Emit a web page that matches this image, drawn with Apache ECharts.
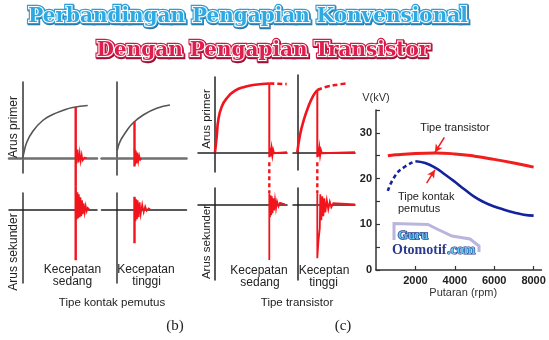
<!DOCTYPE html>
<html><head><meta charset="utf-8">
<script src="https://cdn.jsdelivr.net/npm/echarts@6/dist/echarts.min.js"></script>
<style>html,body{margin:0;padding:0;background:#fff}#c{width:549px;height:340px}</style>
</head><body><div id="c"></div>
<script>
// ===== Main chart data: V(kV) vs Putaran (rpm) =====
const rpmTransistor = [600, 1000, 2000, 3000, 4000, 5000, 6000, 7000, 8000];
const kvTransistor  = [25.0, 25.2, 25.5, 25.6, 25.4, 24.9, 24.2, 23.4, 22.5];
const rpmKontakDash = [600, 1000, 1500, 2000];
const kvKontakDash  = [17.3, 20.8, 22.7, 23.8];
const rpmKontak = [2000, 2500, 3000, 3500, 4000, 4500, 5000, 5500, 6000, 6500, 7000, 7500, 8000];
const kvKontak  = [23.8, 23.4, 22.4, 20.9, 19.3, 17.6, 16.0, 14.8, 13.9, 13.2, 12.6, 12.1, 11.9];
const xTickValues = [2000, 4000, 6000, 8000];
const yTickLabels = [0, 10, 20, 30];

// ===== Waveform sketches (time, current in arbitrary units) =====
// (b) Tipe kontak pemutus - kecepatan sedang
const bSedPrimT = [0, 0.1, 0.4, 1.0, 2.0, 3.0, 4.0, 5.0, 6.5];
const bSedPrimI = [0, 0.5, 1.6, 2.7, 3.8, 4.4, 4.8, 5.1, 5.3];
const bSedSpike = [[5.3, 5.15], [5.3, -2.8]];
const bSedPrimOsc = [[5.3, 1.2], [5.4, -0.5], [5.5, 0.9], [5.6, -0.4], [5.7, 0.6], [5.8, -0.3], [5.9, 0.4], [6.0, -0.2], [6.2, 0.1], [6.4, 0]];
const bSedSekSpike = [[5.3, 2.3], [5.3, -5.1]];
const bSedSekOsc = [[5.33, 1.8], [5.42, -1.0], [5.48, 1.7], [5.55, -0.9], [5.62, 1.5], [5.7, -0.8], [5.78, 1.2], [5.86, -0.7], [5.94, 0.9], [6.02, -0.5], [6.1, 0.6], [6.2, -0.35], [6.3, 0.35], [6.4, -0.2], [6.5, 0.15], [6.65, 0]];
// (b) kecepatan tinggi
const bTinPrimT = [0.06, 0.33, 0.83, 1.6, 2.66, 4.0, 5.33];
const bTinPrimI = [0.85, 1.68, 2.52, 3.52, 4.35, 5.02, 5.35];
const bTinSpike = [[1.78, 3.7], [1.78, -0.8]];
const bTinPrimOsc = [[1.78, 1.0], [1.85, -0.6], [1.92, 0.8], [2.0, -0.5], [2.08, 0.6], [2.16, -0.3], [2.25, 0.3], [2.35, -0.15], [2.5, 0]];
const bTinSekSpike = [[1.78, 1.26], [1.78, -3.4]];
const bTinSekOsc = [[1.8, 1.1], [1.88, -1.2], [1.95, 1.0], [2.03, -1.0], [2.1, 0.9], [2.2, -0.8], [2.3, 0.7], [2.4, -0.5], [2.55, 0.5], [2.7, -0.3], [2.85, 0.3], [3.0, -0.15], [3.2, 0.1], [3.35, 0]];
// (c) Tipe transistor - kecepatan sedang
const cSedPrimT = [0, 0.17, 0.33, 0.67, 1.17, 2.0, 3.0, 4.0, 5.43];
const cSedPrimI = [0, 1.56, 3.23, 4.56, 5.4, 6.16, 6.56, 6.76, 6.88];
const cSedPrimDash = [[5.43, 6.88], [6.3, 6.85], [7.17, 6.82]];
const cSedPrimOsc = [[5.43, 6.88], [5.43, -0.5], [5.5, 0.45], [5.58, -0.4], [5.66, 0.35], [5.74, -0.3], [5.82, 0.2], [5.9, -0.1], [6.0, 0], [7.2, 0]];
const cSedLink = [[5.43, -1.0], [5.43, -4.1]];
const cSedSek = [[5.43, 1.1], [5.43, -5.57], [5.43, 0.9], [5.5, -1.3], [5.56, 0.9], [5.62, -1.1], [5.68, 0.8], [5.75, -0.9], [5.82, 0.6], [5.9, -0.6], [6.0, 0.45], [6.1, -0.4], [6.2, 0.3], [6.35, -0.2], [6.5, 0.15], [6.7, -0.05], [7.0, 0]];
// (c) kecepatan tinggi
const cTinPrimT = [0, 0.27, 0.6, 1.1, 1.6, 2.0];
const cTinPrimI = [0, 1.73, 3.06, 4.56, 5.66, 6.23];
const cTinPrimDash = [[2.0, 6.23], [2.94, 6.56], [4.27, 6.8], [4.94, 6.9]];
const cTinPrimOsc = [[2.0, 6.23], [2.0, -0.5], [2.07, 0.5], [2.14, -0.4], [2.21, 0.35], [2.28, -0.3], [2.36, 0.2], [2.45, -0.1], [2.6, 0], [5.77, 0]];
const cTinLink = [[2.0, -1.0], [2.0, -4.1]];
const cTinSek = [[2.0, 1.1], [2.0, -5.4], [2.12, -3.6], [2.25, -2.4], [2.3, 1.0], [2.4, -1.6], [2.5, 0.8], [2.6, -1.2], [2.7, 0.6], [2.8, -0.8], [2.95, 0.4], [3.1, -0.5], [3.25, 0.25], [3.4, -0.3], [3.6, 0.1], [3.77, 0], [5.77, 0]];

const zip = (a, b) => a.map((v, i) => [v, b[i]]);

// ===== Layout of the sketch panels (pixels) =====
const U = 10; // px per unit
const boxes = [
  {l: 9,     t: 82,  r: 97,    b: 173, ox: 22.7,  oy: 158.5, hc: '#707070', hw: 2.5, vc: '#333'},
  {l: 9,     t: 193, r: 97,    b: 283, ox: 22.7,  oy: 209.3, hc: '#222',    hw: 1.5, vc: '#333'},
  {l: 101.5, t: 82,  r: 186.5, b: 175, ox: 116.7, oy: 158.5, hc: '#707070', hw: 2.5, vc: '#333'},
  {l: 101.5, t: 193, r: 186.5, b: 283, ox: 116.7, oy: 209.3, hc: '#222',    hw: 1.5, vc: '#333'},
  {l: 198,   t: 77,  r: 287,   b: 172, ox: 215,   oy: 152.3, hc: '#222',    hw: 1.5, vc: '#222'},
  {l: 198,   t: 188, r: 287,   b: 280, ox: 215,   oy: 204.3, hc: '#222',    hw: 1.5, vc: '#222'},
  {l: 293,   t: 75,  r: 355,   b: 170, ox: 297.3, oy: 152.3, hc: '#222',    hw: 1.5, vc: '#222'},
  {l: 293,   t: 188, r: 355,   b: 280, ox: 297.3, oy: 204.3, hc: '#222',    hw: 1.5, vc: '#222'}
];
const grids = [], xAxes = [], yAxes = [];
boxes.forEach((bx, i) => {
  grids.push({left: bx.l, top: bx.t, width: bx.r - bx.l, height: bx.b - bx.t, containLabel: false});
  xAxes.push({gridIndex: i, type: 'value', min: -(bx.ox - bx.l) / U, max: (bx.r - bx.ox) / U,
    axisLine: {onZero: true, lineStyle: {color: bx.hc, width: bx.hw}}, axisTick: {show: false}, axisLabel: {show: false}, splitLine: {show: false}});
  yAxes.push({gridIndex: i, type: 'value', min: -(bx.b - bx.oy) / U, max: (bx.oy - bx.t) / U,
    axisLine: {onZero: true, lineStyle: {color: bx.vc, width: 1.5}}, axisTick: {show: false}, axisLabel: {show: false}, splitLine: {show: false}});
});
// main chart grid
grids.push({left: 376, top: 110, width: 165.5, height: 160, containLabel: false});
const AX = '#333';
xAxes.push({gridIndex: 8, type: 'value', min: 0, max: 8400,
  name: 'Putaran (rpm)', nameLocation: 'middle', nameGap: 17,
  nameTextStyle: {fontFamily: 'Liberation Sans', fontSize: 11, color: '#333', padding: [0, 0, 0, 9]},
  axisLine: {lineStyle: {color: AX, width: 1.5}},
  axisTick: {inside: true, length: 4, customValues: xTickValues, lineStyle: {color: AX, width: 1.2}},
  axisLabel: {customValues: xTickValues, fontFamily: 'Liberation Sans', fontWeight: 'bold', fontSize: 11, color: '#222', margin: 5,
    formatter: v => String(v)},
  splitLine: {show: false}});
yAxes.push({gridIndex: 8, type: 'value', min: 0, max: 35, interval: 5,
  name: 'V(kV)', nameLocation: 'end', nameGap: 7,
  nameTextStyle: {fontFamily: 'Liberation Sans', fontSize: 11, color: '#333', align: 'center'},
  axisLine: {lineStyle: {color: AX, width: 1.5}},
  axisTick: {inside: true, length: 4, lineStyle: {color: AX, width: 1.2}},
  axisLabel: {fontFamily: 'Liberation Sans', fontWeight: 'bold', fontSize: 11, color: '#222', margin: 4,
    formatter: v => yTickLabels.indexOf(v) >= 0 ? String(v) : ''},
  splitLine: {show: false}});

const RED = '#f2141c';
function wave(gi, data, opt) {
  opt = opt || {};
  return {type: 'line', xAxisIndex: gi, yAxisIndex: gi, data: data, showSymbol: false, symbol: 'none',
    smooth: opt.smooth || false, clip: false, silent: true, animation: false, z: opt.z || 3,
    lineStyle: {color: opt.color || RED, width: opt.width || 1.5, type: opt.type || 'solid', cap: 'butt', join: 'miter'}};
}
const series = [
  wave(0, zip(bSedPrimT, bSedPrimI), {color: '#555', width: 1.6, smooth: true}),
  wave(0, bSedSpike, {width: 2.4}),
  wave(0, bSedPrimOsc, {width: 1.5}),
  wave(1, bSedSekSpike, {width: 2.4}),
  wave(1, bSedSekOsc, {width: 1.6}),
  wave(2, zip(bTinPrimT, bTinPrimI), {color: '#555', width: 1.6, smooth: true}),
  wave(2, bTinSpike, {width: 2.4}),
  wave(2, bTinPrimOsc, {width: 1.5}),
  wave(3, bTinSekSpike, {width: 2.4}),
  wave(3, bTinSekOsc, {width: 1.6}),
  wave(4, zip(cSedPrimT, cSedPrimI), {width: 2.6, smooth: true}),
  wave(4, cSedPrimDash, {width: 2.6, type: [5, 3]}),
  wave(4, cSedPrimOsc, {width: 2}),
  wave(4, cSedLink, {width: 2.4, type: [4, 3]}),
  wave(5, cSedSek, {width: 1.8}),
  wave(6, zip(cTinPrimT, cTinPrimI), {width: 2.6, smooth: true}),
  wave(6, cTinPrimDash, {width: 2.6, type: [5, 3], smooth: true}),
  wave(6, cTinPrimOsc, {width: 2}),
  wave(6, cTinLink, {width: 2.4, type: [4, 3]}),
  wave(7, cTinSek, {width: 1.8}),
  {type: 'line', name: 'Tipe transistor', xAxisIndex: 8, yAxisIndex: 8, data: zip(rpmTransistor, kvTransistor),
   smooth: true, showSymbol: false, symbol: 'none', animation: false, lineStyle: {color: '#f21d1d', width: 3},
   markLine: {silent: true, animation: false, symbol: ['none', 'arrow'], symbolSize: [6, 8], label: {show: false},
     lineStyle: {color: '#f21d1d', width: 1.5, type: 'solid'},
     data: [[{coord: [3470, 29.0]}, {coord: [2990, 25.7]}], [{coord: [2570, 19.0]}, {coord: [2990, 21.9]}]]}},
  {type: 'line', name: 'Tipe kontak pemutus (dashed)', xAxisIndex: 8, yAxisIndex: 8, data: zip(rpmKontakDash, kvKontakDash),
   smooth: true, showSymbol: false, symbol: 'none', animation: false, lineStyle: {color: '#13239c', width: 2.6, type: [4, 3]}},
  {type: 'line', name: 'Tipe kontak pemutus', xAxisIndex: 8, yAxisIndex: 8, data: zip(rpmKontak, kvKontak),
   smooth: true, showSymbol: false, symbol: 'none', animation: false, lineStyle: {color: '#13239c', width: 2.6}}
];

const F = 'Liberation Sans';
const txt = (text, x, y, size, opt) => Object.assign({type: 'text', x: x, y: y, silent: true, z: 10,
  style: Object.assign({text: text, textAlign: 'center', textVerticalAlign: 'middle', font: size + 'px "' + F + '"', fill: '#222'}, (opt && opt.style) || {})},
  (opt && opt.el) || {});
function title(text, cx, cy, fill, outer, shadow) {
  const font = 'bold 20px "DejaVu Serif"';
  return [
    {type: 'text', x: cx + 0.8, y: cy + 1.2, z: 20, silent: true, style: {text: text, textAlign: 'center', textVerticalAlign: 'middle', font: font, fill: shadow, stroke: shadow, lineWidth: 4.5}},
    {type: 'text', x: cx, y: cy, z: 21, silent: true, style: {text: text, textAlign: 'center', textVerticalAlign: 'middle', font: font, fill: outer, stroke: outer, lineWidth: 4.5}},
    {type: 'text', x: cx, y: cy, z: 22, silent: true, style: {text: text, textAlign: 'center', textVerticalAlign: 'middle', font: font, fill: fill, stroke: '#ffffff', lineWidth: 2.2}}
  ];
}
const graphics = [].concat(
  title('Perbandingan Pengapian Konvensional', 248, 17, '#2fa9e2', '#2a9fd8', '#2a6f9e'),
  title('Dengan Pengapian Transistor', 263, 51, '#dc1f4d', '#d11a47', '#8a1030'),
  [
    txt('Arus primer', 14, 127, 12, {el: {rotation: Math.PI / 2}}),
    txt('Arus sekunder', 14, 252, 12, {el: {rotation: Math.PI / 2}}),
    txt('Kecepatan', 72.5, 270, 12), txt('sedang', 72.5, 282, 12),
    txt('Kecepatan', 146, 270, 12), txt('tinggi', 146.5, 282, 12),
    txt('Tipe kontak pemutus', 112, 303, 11.5),
    txt('(b)', 175, 326, 15, {style: {font: '15px "Liberation Serif"'}}),
    txt('Arus primer', 207, 119, 11.5, {el: {rotation: Math.PI / 2}}),
    txt('Arus sekunder', 207, 242, 11.5, {el: {rotation: Math.PI / 2}}),
    txt('Kecepatan', 259, 271, 12), txt('sedang', 260, 283, 12),
    txt('Keceptan', 324, 271, 12), txt('tinggi', 323.5, 283, 12),
    txt('Tipe transistor', 297, 303, 11.5),
    txt('(c)', 343, 326, 15, {style: {font: '15px "Liberation Serif"'}}),
    txt('Tipe transistor', 455, 128, 11),
    txt('Tipe kontak', 398, 197, 11, {style: {textAlign: 'left'}}),
    txt('pemutus', 398, 208.5, 11, {style: {textAlign: 'left'}}),
    {type: 'polyline', silent: true, z: 5, shape: {points: [[394, 240], [394, 223.5], [428, 224.5], [437, 229], [452, 236], [470, 239], [479, 246], [479, 252]]},
     style: {stroke: '#b9b5dc', lineWidth: 3, fill: null}},
    {type: 'text', x: 413, y: 236, z: 6, silent: true, style: {text: 'Guru', textAlign: 'center', textVerticalAlign: 'middle', font: 'bold 13px "Liberation Serif"', fill: '#5ec9f2', stroke: '#2a3a8c', lineWidth: 1.5}},
    {type: 'text', x: 392, y: 250, z: 6, silent: true, style: {text: 'Otomotif', textAlign: 'left', textVerticalAlign: 'middle', font: 'bold 14px "Liberation Serif"', fill: '#2b3990', stroke: '#ffffff', lineWidth: 1}},
    {type: 'text', x: 447, y: 250, z: 6, silent: true, style: {text: '.com', textAlign: 'left', textVerticalAlign: 'middle', font: 'bold 14px "Liberation Serif"', fill: '#5ec9f2', stroke: '#2a3a8c', lineWidth: 1.2}}
  ]
);

const chart = echarts.init(document.getElementById('c'), null, {renderer: 'canvas'});
chart.setOption({
  backgroundColor: '#ffffff',
  animation: false,
  grid: grids, xAxis: xAxes, yAxis: yAxes,
  series: series,
  graphic: {elements: graphics}
});
</script>
</body></html>
